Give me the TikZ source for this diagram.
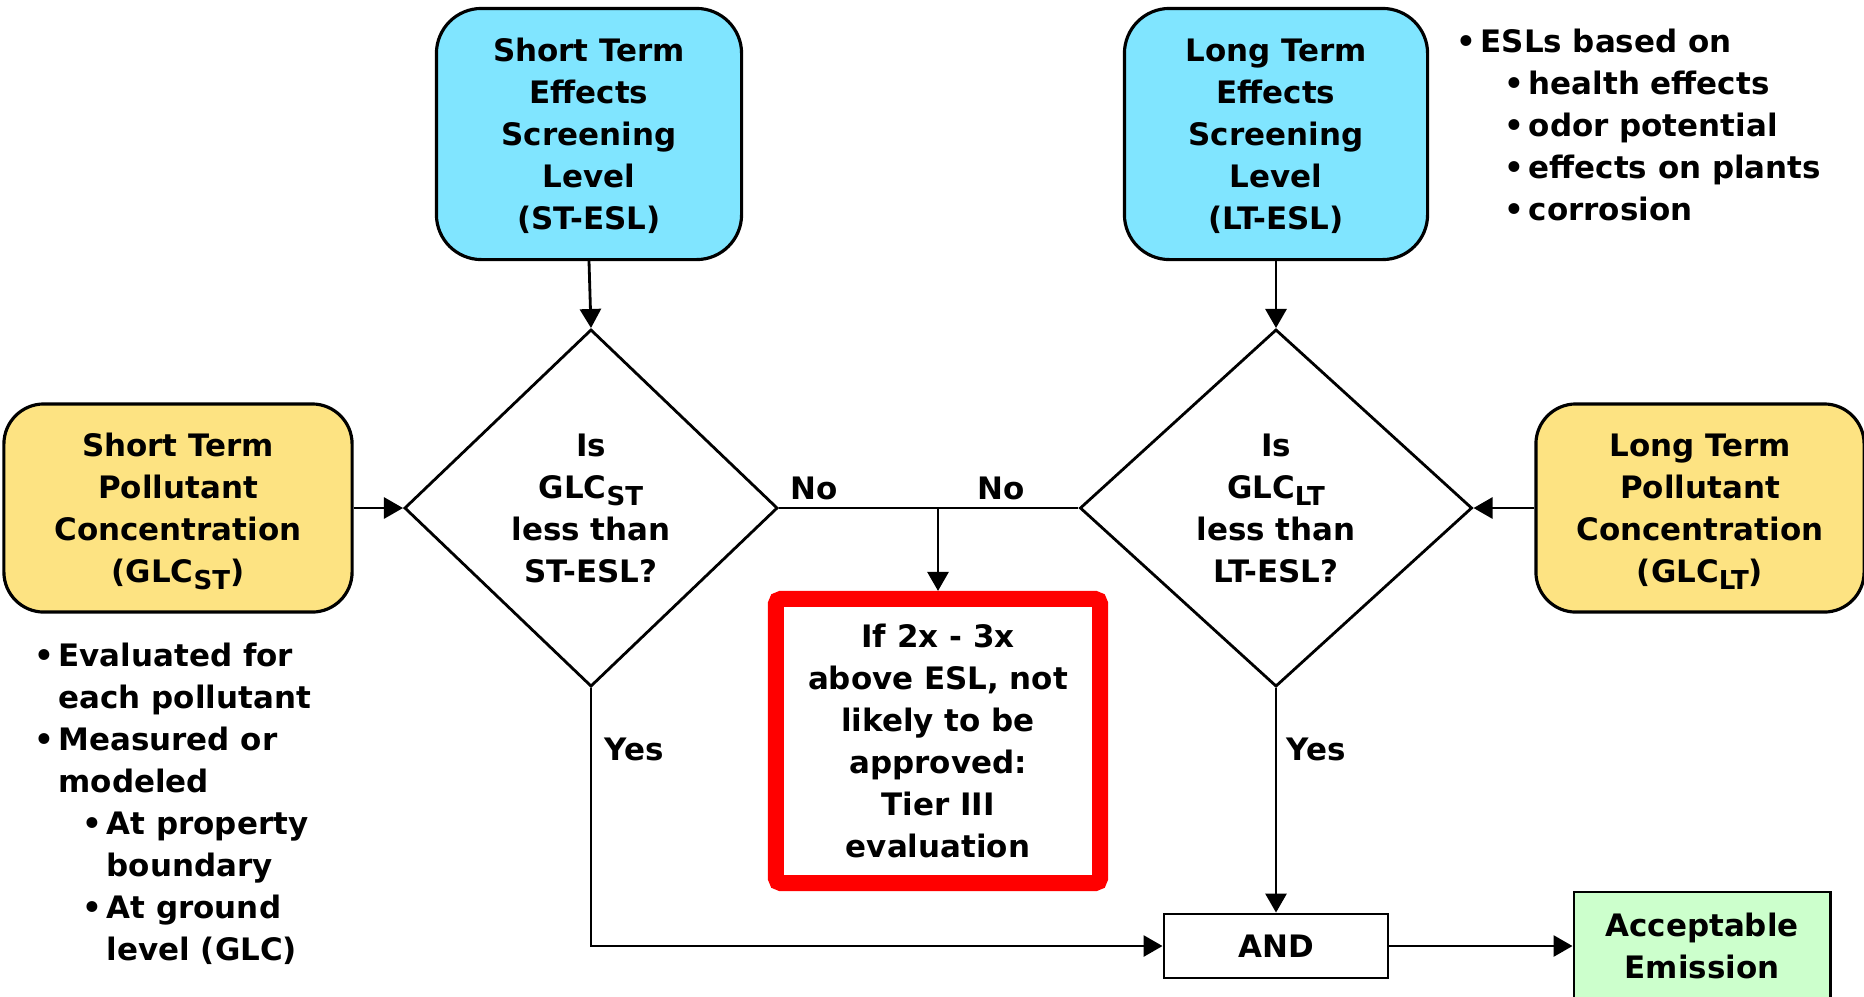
\documentclass[tikz,border=0pt]{standalone}
\usepackage{fontspec}
\setmainfont{DejaVu Sans}
\usetikzlibrary{shapes.geometric, arrows.meta}

\definecolor{eslblue}{RGB}{128,229,255}
\definecolor{glcyellow}{RGB}{253,227,130}
\definecolor{okgreen}{RGB}{204,255,204}

\newcommand{\glcsub}[1]{\raisebox{-0.4ex}{\fontsize{7.4}{7.4}\selectfont #1}}
\newcommand{\bul}{\makebox[6.8pt][l]{\textbullet}}

\begin{document}
\begin{tikzpicture}[x=0.01cm, y=-0.01cm,
  every node/.style={font=\fontsize{8.8}{11.95}\selectfont\bfseries, align=center, inner sep=0pt, text depth=0pt},
  eslbox/.style={draw=black, line width=0.9pt, fill=eslblue, rounded corners=0.45cm, minimum width=3.05cm, minimum height=2.51cm},
  glcbox/.style={draw=black, line width=0.9pt, fill=glcyellow, rounded corners=0.4cm, minimum width=3.48cm, minimum height=2.08cm},
  question/.style={diamond, draw=black, line width=0.8pt, minimum height=3.57cm},
  flow/.style={line width=0.8pt, -{Triangle[length=0.19cm, width=0.21cm]}},
  notetext/.style={align=left, anchor=north west}
]
\useasboundingbox (0,0) rectangle (1864,996);
\clip (0,0) rectangle (1864,996);

%screening levels
\node[eslbox] (stesl) at (589,134) {Short Term\\Effects\\Screening\\Level\\(ST-ESL)};
\node[eslbox, minimum width=3.03cm] (ltesl) at (1276,134) {Long Term\\Effects\\Screening\\Level\\(LT-ESL)};

%pollutant concentrations
\node[glcbox] (stglc) at (178,508) {Short Term\\Pollutant\\Concentration\\(GLC\glcsub{ST})};
\node[glcbox, minimum width=3.28cm] (ltglc) at (1700,508) {Long Term\\Pollutant\\Concentration\\(GLC\glcsub{LT})};

%decisions
\node[question, minimum width=3.73cm] (stq) at (591,508) {Is\\GLC\glcsub{ST}\\less than\\ST-ESL?};
\node[question, minimum width=3.92cm] (ltq) at (1276,508) {Is\\GLC\glcsub{LT}\\less than\\LT-ESL?};

%outcomes
\node[draw=red, line width=0.16cm, rounded corners=0.05cm, minimum width=3.24cm, minimum height=2.84cm] (tier3) at (938,741) {If 2x - 3x\\above ESL, not\\likely to be\\approved:\\Tier III\\evaluation};
\node[draw=black, line width=0.8pt, minimum width=2.24cm, minimum height=0.64cm] (andbox) at (1276,946) {AND};
\node[draw=black, line width=0.8pt, fill=okgreen, minimum width=2.56cm, minimum height=1.08cm] (okbox) at (1702,946) {Acceptable\\Emission};

%notes
\node[notetext] (eslnote) at (1456,28) {\bul ESLs based on\\
  \hspace*{13.7pt}\bul health effects\\
  \hspace*{13.7pt}\bul odor potential\\
  \hspace*{13.7pt}\bul effects on plants\\
  \hspace*{13.7pt}\bul corrosion};
\node[notetext] (glcnote) at (34,642) {\bul Evaluated for\\
  \hspace*{6.8pt}each pollutant\\
  \bul Measured or\\
  \hspace*{6.8pt}modeled\\
  \hspace*{13.7pt}\bul At property\\
  \hspace*{20.5pt}boundary\\
  \hspace*{13.7pt}\bul At ground\\
  \hspace*{20.5pt}level (GLC)};

%connectors
\draw[flow] (stesl.south) -- (stq.north);
\draw[flow] (ltesl.south) -- (ltq.north);
\draw[flow] (stglc.east) -- (stq.west);
\draw[flow] (ltglc.west) -- (ltq.east);
\draw[line width=0.8pt] (stq.east) -- (ltq.west);
\coordinate (nojoin) at (938,508);
\draw[flow] (nojoin) -- (tier3.north);
\draw[flow] (stq.south) |- (andbox.west);
\draw[flow] (ltq.south) -- (andbox.north);
\draw[flow] (andbox.east) -- (okbox.west);

%labels
\node (stno) at (814,488) {No};
\node (ltno) at (1001,488) {No};
\node (styes) at (634,749) {Yes};
\node (ltyes) at (1316,749) {Yes};
\end{tikzpicture}
\end{document}
